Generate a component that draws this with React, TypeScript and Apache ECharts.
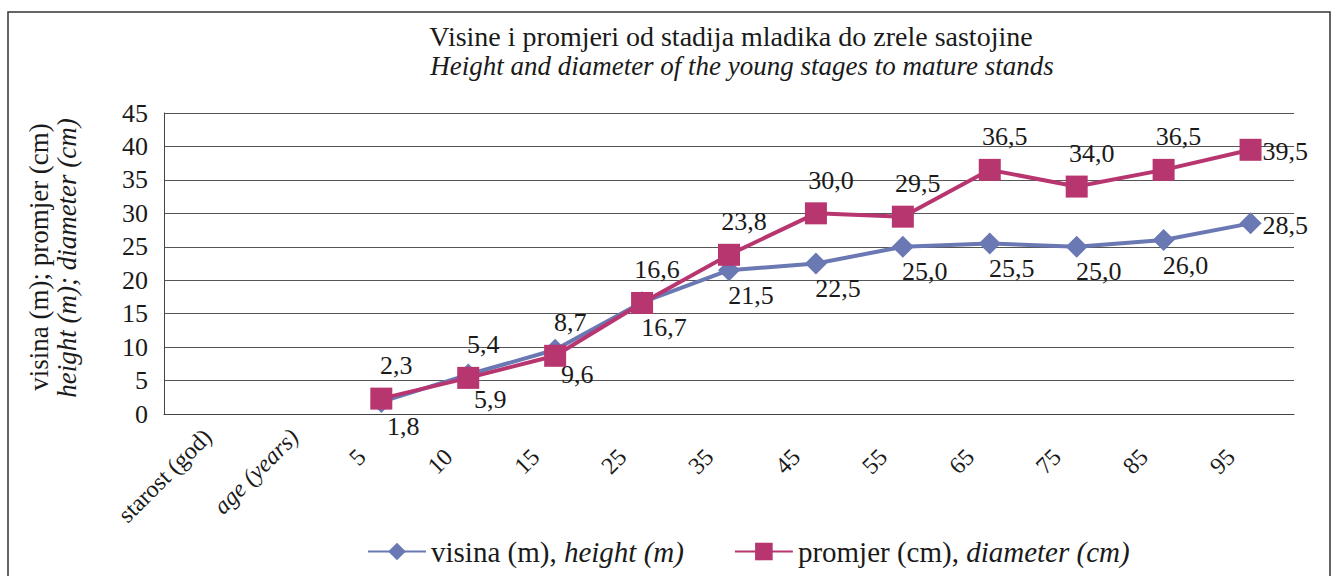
import React, { useEffect, useRef } from "react";
import * as echarts from "echarts";

const categories = ["starost (god)", "age (years)", "5", "10", "15", "25", "35", "45", "55", "65", "75", "85", "95"];
const heightValues: (number | null)[] = [null, null, 1.8, 5.9, 9.6, 16.7, 21.5, 22.5, 25.0, 25.5, 25.0, 26.0, 28.5];
const diameterValues: (number | null)[] = [null, null, 2.3, 5.4, 8.7, 16.6, 23.8, 30.0, 29.5, 36.5, 34.0, 36.5, 39.5];
const yTicks = { min: 0, max: 45, interval: 5 };

const FONT = "Liberation Serif";
const BLUE = "#6A78B3";
const RED = "#B8366F";
const INK = "#1a1a1a";
const fmt = (v: number) => v.toFixed(1).replace(".", ",");

export default function App() {
  const ref = useRef<HTMLDivElement>(null);
  useEffect(() => {
    if (!ref.current) return;
    const chart = echarts.init(ref.current, null, { renderer: "svg" });
    const last = categories.length - 1;
    const build = (arr: (number | null)[]) =>
      arr.map((v, i) => (i === last ? { value: v, label: { position: "right", distance: 1, offset: [0, 2] } } : v));
    chart.setOption({
      animation: false,
      backgroundColor: "#fff",
      textStyle: { fontFamily: FONT },
      graphic: [
        {
          type: "rect",
          shape: { x: 8, y: 12, width: 1322, height: 620 },
          style: { fill: "none", stroke: "#333", lineWidth: 1.5 },
          silent: true,
        },
        {
          type: "text",
          x: 731,
          y: 36,
          style: {
            text: "Visine i promjeri od stadija mladika do zrele sastojine",
            font: `28px "${FONT}"`,
            fill: INK,
            textAlign: "center",
            textVerticalAlign: "middle",
          },
        },
        {
          type: "text",
          x: 742,
          y: 66,
          style: {
            text: "Height and diameter of the young stages to mature stands",
            font: `italic 27px "${FONT}"`,
            fill: INK,
            textAlign: "center",
            textVerticalAlign: "middle",
          },
        },
        {
          type: "text",
          x: 39,
          y: 257,
          rotation: Math.PI / 2,
          style: {
            text: "visina (m); promjer (cm)",
            font: `27px "${FONT}"`,
            fill: INK,
            textAlign: "center",
            textVerticalAlign: "middle",
          },
        },
        {
          type: "text",
          x: 67,
          y: 258,
          rotation: Math.PI / 2,
          style: {
            text: "height (m); diameter (cm)",
            font: `italic 27px "${FONT}"`,
            fill: INK,
            textAlign: "center",
            textVerticalAlign: "middle",
          },
        },
      ],
      grid: { left: 164, right: 39, top: 113, bottom: 162, containLabel: false },
      legend: {
        left: 362,
        top: 532,
        itemWidth: 58,
        itemHeight: 22,
        itemGap: 50,
        textStyle: {
          fontFamily: FONT,
          fontSize: 29,
          color: INK,
          rich: {
            n: { fontFamily: FONT, fontSize: 29, color: INK },
            i: { fontFamily: FONT, fontSize: 29, color: INK, fontStyle: "italic" },
          },
        },
        formatter: (name: string) => {
          const parts = name.split("|");
          return `{n|${parts[0]}}{i|${parts[1]}}`;
        },
        data: ["visina (m), |height (m)", "promjer (cm), |diameter (cm)"],
      },
      xAxis: {
        type: "category",
        data: categories,
        boundaryGap: true,
        axisLine: { show: true, lineStyle: { color: "#444", width: 1 } },
        axisTick: { show: false },
        axisLabel: {
          rotate: 45,
          margin: 19,
          fontFamily: FONT,
          fontSize: 24,
          color: INK,
          interval: 0,
          formatter: (v: string) => {
            if (v === "age (years)") return `{i|${v}}`;
            if (/^\d+$/.test(v)) return `{num|${v}}`;
            return `{t|${v}}`;
          },
          rich: {
            i: { fontFamily: FONT, fontSize: 24, fontStyle: "italic", color: INK },
            t: { fontFamily: FONT, fontSize: 24, color: INK },
            num: { fontFamily: FONT, fontSize: 24, color: INK, padding: [0, 28, 0, 0] },
          },
        },
        splitLine: { show: false },
      },
      yAxis: {
        type: "value",
        min: yTicks.min,
        max: yTicks.max,
        interval: yTicks.interval,
        axisLine: { show: true, lineStyle: { color: "#444", width: 1 } },
        axisTick: { show: false },
        axisLabel: { fontFamily: FONT, fontSize: 26, color: INK, margin: 16 },
        splitLine: { show: true, lineStyle: { color: "#555", width: 1 } },
      },
      series: [
        {
          name: "visina (m), |height (m)",
          type: "line",
          data: build(heightValues),
          connectNulls: false,
          symbol: "diamond",
          symbolSize: 22,
          lineStyle: { color: BLUE, width: 4 },
          itemStyle: { color: BLUE },
          z: 2,
          label: {
            show: true,
            position: "bottom",
            distance: 1,
            offset: [22, 0],
            fontFamily: FONT,
            fontSize: 26,
            color: INK,
            formatter: (p: any) => fmt(p.value),
          },
        },
        {
          name: "promjer (cm), |diameter (cm)",
          type: "line",
          data: build(diameterValues),
          connectNulls: false,
          symbol: "rect",
          symbolSize: 22,
          lineStyle: { color: RED, width: 4 },
          itemStyle: { color: RED },
          z: 3,
          label: {
            show: true,
            position: "top",
            distance: 9,
            offset: [15, 0],
            fontFamily: FONT,
            fontSize: 26,
            color: INK,
            formatter: (p: any) => fmt(p.value),
          },
        },
      ],
    });
    return () => chart.dispose();
  }, []);
  return (
    <div
      ref={ref}
      style={{ position: "fixed", left: 0, top: 0, width: 1333, height: 576 }}
    />
  );
}
